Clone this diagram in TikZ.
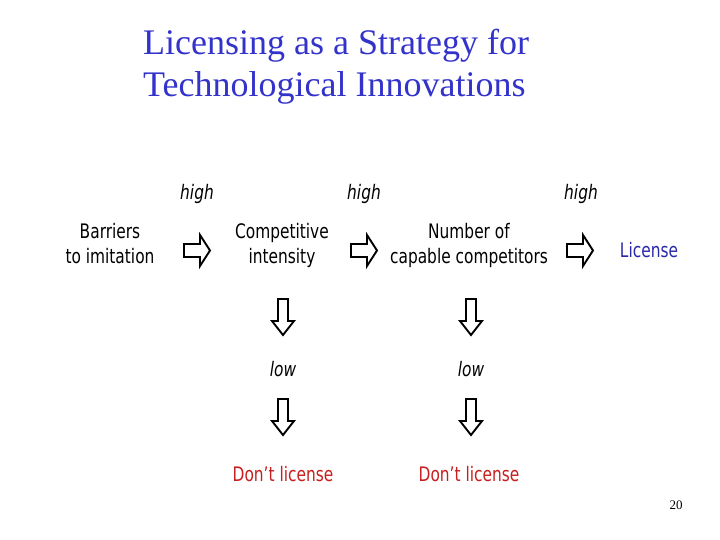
\documentclass[tikz,border=0pt]{standalone}
\usepackage{fontspec}
\setmainfont{Liberation Serif}
\newfontfamily\tah[FakeStretch=0.77]{DejaVu Sans}
\newfontfamily\tahit[FakeStretch=0.77]{DejaVu Sans Oblique}
\definecolor{titleblue}{RGB}{51,51,204}
\definecolor{licblue}{RGB}{40,40,170}
\definecolor{dred}{RGB}{200,30,30}
\tikzset{
  lbl/.style={font=\tah\fontsize{20}{25}\selectfont, align=center, inner sep=0pt, anchor=base},
  hl/.style={font=\tahit\fontsize{20}{25}\selectfont, inner sep=0pt, anchor=base},
  blk/.style={draw=black, line width=1.9pt, fill=white, line join=miter},
  rarr/.pic={\path[blk] (-13,-6.5) -- (3,-6.5) -- (3,-15.5) -- (13,0) -- (3,15.5) -- (3,6.5) -- (-13,6.5) -- cycle;},
  darr/.pic={\path[blk] (-5,-18) -- (5,-18) -- (5,4) -- (11,4) -- (0,18) -- (-11,4) -- (-5,4) -- cycle;}
}
\begin{document}
\begin{tikzpicture}[x=1pt,y=-1pt]
\useasboundingbox (0,0) rectangle (720,540);
\node[font=\fontsize{36}{42}\selectfont, text=titleblue, align=left, anchor=base west, inner sep=0pt] (title) at (143,97) {Licensing as a Strategy for\\Technological Innovations};

\node[lbl] (bar) at (110,263) {Barriers\\to imitation};
\node[lbl] (comp) at (282,263) {Competitive\\intensity};
\node[lbl] (num) at (469,263) {Number of\\capable competitors};
\node[lbl, text=licblue] (lic) at (649,258) {License};

\node[hl] (h1) at (197,200) {high};
\node[hl] (h2) at (364,200) {high};
\node[hl] (h3) at (581,200) {high};

\node[hl] (l1) at (283,376) {low};
\node[hl] (l2) at (471,376) {low};

\node[lbl, text=dred] (d1) at (283,481) {Don’t license};
\node[lbl, text=dred] (d2) at (469,481) {Don’t license};

\pic at (197,250.5) {rarr};
\pic at (364,250.5) {rarr};
\pic at (580,250.5) {rarr};

\pic at (283,317) {darr};
\pic at (283,417) {darr};
\pic at (471,317) {darr};
\pic at (471,417) {darr};

\node[font=\fontsize{13}{14}\selectfont, anchor=base, inner sep=0pt] (pg) at (676,509) {20};
\end{tikzpicture}
\end{document}
